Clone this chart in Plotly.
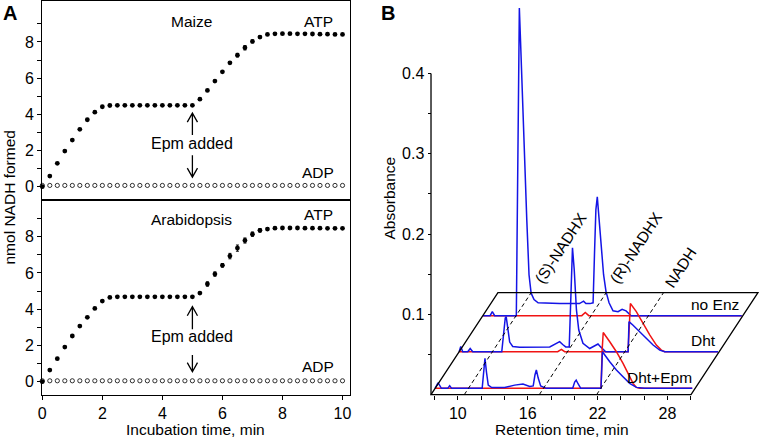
import plotly.graph_objects as go

# ---------------- Panel A data (nmol NADH formed vs incubation time) ----------------
time_min = [0, 0.25, 0.5, 0.75, 1, 1.25, 1.5, 1.75, 2, 2.25, 2.5, 2.75, 3, 3.25, 3.5, 3.75, 4, 4.25, 4.5, 4.75, 5,
            5.25, 5.5, 5.75, 6, 6.25, 6.5, 6.75, 7, 7.25, 7.5, 7.75, 8, 8.25, 8.5, 8.75, 9, 9.25, 9.5, 9.75, 10]
maize_atp = [0, 0.59, 1.29, 1.97, 2.58, 3.17, 3.70, 4.12, 4.42, 4.49,
             4.50, 4.50, 4.50, 4.50, 4.50, 4.50, 4.50, 4.50, 4.50, 4.50, 4.50,
             4.84, 5.32, 5.84, 6.35, 6.85, 7.27, 7.68, 8.03, 8.27, 8.42, 8.45,
             8.46, 8.46, 8.45, 8.45, 8.44, 8.43, 8.43, 8.42, 8.42]
maize_atp_err = [0] * 25 + [0.05, 0.1, 0.12, 0.08, 0.05] + [0] * 11
maize_adp = [0.07] * 41
arab_atp = [0, 0.64, 1.27, 1.91, 2.52, 3.07, 3.55, 4.04, 4.45, 4.65,
            4.68, 4.68, 4.68, 4.68, 4.68, 4.68, 4.68, 4.68, 4.68, 4.68, 4.68,
            4.89, 5.39, 5.94, 6.42, 6.93, 7.37, 7.79, 8.14, 8.35, 8.42, 8.47,
            8.48, 8.48, 8.48, 8.47, 8.47, 8.47, 8.46, 8.46, 8.46]
arab_atp_err = [0] * 22 + [0.12, 0.12, 0.1, 0.15, 0.17, 0.14, 0.12, 0.1, 0.08] + [0] * 10
arab_adp = [0.05] * 41
epm_time = 5.0

# ---------------- Panel B data (chromatograms; rt in min, absorbance above each row's baseline) ----------------
rows = ["no Enz", "Dht", "Dht+Epm"]
row_depth = [0.0983, 0.0534, 0.0078]   # absorbance offset of each row baseline

noenz_blue_rt = [7.73, 8.33, 8.52, 8.72, 10.58, 10.69, 10.79, 10.84, 10.94, 11.16, 11.48, 11.67, 11.85, 12.10, 12.45,
                 14.3, 16.0, 16.35, 16.55, 16.9, 17.17, 17.30, 17.41, 17.53, 17.68, 17.85, 18.07, 18.28, 18.54, 18.88,
                 19.31, 19.66, 20.00, 20.43, 26.0, 29.93]
noenz_blue_abs = [0, 0, 0.005, 0, 0, 0.206, 0.356, 0.383, 0.343, 0.244, 0.119, 0.051, 0.028, 0.020, 0.016,
                  0.015, 0.015, 0.018, 0.015, 0.015, 0.016, 0.082, 0.132, 0.148, 0.119, 0.082, 0.051, 0.030, 0.016, 0.006,
                  0.005, 0.008, 0.006, 0.0, 0.0, 0.0]
noenz_red_rt = [7.73, 16.2, 16.5, 16.8, 29.93]
noenz_red_abs = [0, 0, 0.004, 0, 0]

dht_blue_rt = [7.70, 7.84, 8.01, 8.44, 8.65, 8.87, 11.36, 11.53, 11.66, 11.74, 11.87, 12.04, 12.30, 12.90,
               15.48, 15.99, 16.33, 16.59, 16.85, 17.15, 17.28, 17.43, 17.58, 17.77, 17.97, 18.33,
               18.91, 19.34, 19.62, 19.85, 20.28, 22.21, 22.28, 22.63, 23.20, 23.78, 24.35, 24.92, 25.35, 29.92]
dht_blue_abs = [0, 0.0065, 0, 0, 0.004, 0, 0, 0.021, 0.042, 0.0438, 0.027, 0.012, 0.0065, 0.0055,
                0.006, 0.010, 0.0125, 0.009, 0.006, 0.006, 0.064, 0.1295, 0.102, 0.052, 0.027, 0.0105,
                0.004, 0.0077, 0.0096, 0.006, 0, 0, 0.0374, 0.033, 0.025, 0.0167, 0.0083, 0.002, 0, 0]
dht_red_rt = [7.70, 16.16, 16.48, 16.76, 22.20, 22.29, 22.40, 22.91, 23.48, 24.06, 24.63, 25.06, 25.35, 29.92]
dht_red_abs = [0, 0, 0.003, 0, 0, 0.039, 0.060, 0.050, 0.035, 0.021, 0.0083, 0.002, 0, 0]

epm_blue_rt = [7.70, 7.95, 8.24, 8.78, 8.95, 9.12, 11.74, 11.87, 11.98, 12.11, 12.26, 12.56,
               13.67, 14.53, 15.24, 15.82, 16.12, 16.27, 16.39, 16.55, 16.76, 17.25,
               19.51, 19.68, 19.81, 19.98, 20.20, 21.94, 22.06, 22.69, 23.26, 23.83, 24.40, 24.98, 25.69, 29.77]
epm_blue_abs = [0, 0.007, 0, 0, 0.0032, 0, 0, 0.0228, 0.0374, 0.020, 0.004, 0.001,
                0.001, 0.004, 0.0054, 0.0022, 0.003, 0.0166, 0.0228, 0.0128, 0.003, 0,
                0, 0.0078, 0.0103, 0.0054, 0, 0, 0.0456, 0.0331, 0.0228, 0.0144, 0.0062, 0.0012, 0, 0]
epm_red_rt = [7.70, 21.94, 22.04, 22.13, 22.69, 23.26, 23.83, 24.40, 24.69, 24.98, 25.26, 29.77]
epm_red_abs = [0, 0, 0.048, 0.0695, 0.058, 0.0456, 0.031, 0.0144, 0.0062, 0.0012, 0, 0]

compound_names = ["(S)-NADHX", "(R)-NADHX", "NADH"]
compound_rt = [10.56, 17.0, 21.92]

x_tick_vals_B = [8, 10, 12, 14, 16, 18, 20, 22, 24, 26, 28, 30]
x_tick_labels_B = ["", "10", "", "", "16", "", "", "22", "", "", "28", ""]
y_tick_vals_B = [0.05, 0.1, 0.15, 0.2, 0.25, 0.3, 0.35, 0.4]
y_tick_labels_B = ["", "0.1", "", "0.2", "", "0.3", "", "0.4"]

# ---------------- layout geometry (pixels) ----------------
W, H = 760, 445
def PX(p): return p / W
def PY(p): return 1 - p / H

FONT = "Liberation Sans, Arial, sans-serif"
BLUE = "#1414e6"
RED = "#f01414"

A_LEFT, A_RIGHT, A_TOP, A_MID, A_BOT = 42.3, 350, 1, 200, 395
# panel B mapping
B_X0PX, B_PXPERMIN = 341.3, 11.65        # px of rt=0, px per min
B_Y0PX, B_PXPERABS = 394.6, 803.0       # px of absorbance 0, px per absorbance unit
B_RT_START, B_RT_END = 7.7, 30.02
B_TOP_ABS = 0.1271
SHEAR = 45.2                             # rt shift per absorbance unit of depth

def rt_at(px): return (px - B_X0PX) / B_PXPERMIN
def ab_at(py): return (B_Y0PX - py) / B_PXPERABS

fig = go.Figure()

# Panel A traces
def add_A(yvals, err, adp, xa, ya):
    fig.add_trace(go.Scatter(x=time_min, y=adp, mode="markers", xaxis=xa, yaxis=ya, cliponaxis=False,
                             marker=dict(symbol="circle-open", size=4.2, color="black", line=dict(width=0.8, color="black")),
                             showlegend=False))
    fig.add_trace(go.Scatter(x=time_min, y=yvals, mode="markers", xaxis=xa, yaxis=ya, cliponaxis=False,
                             marker=dict(symbol="circle", size=4.8, color="black"),
                             error_y=dict(type="data", array=err, visible=True, color="black", thickness=1, width=1.5),
                             showlegend=False))

add_A(maize_atp, maize_atp_err, maize_adp, "x", "y")
add_A(arab_atp, arab_atp_err, arab_adp, "x2", "y2")

# Panel B traces
series = [
    (noenz_red_rt, noenz_red_abs, RED, 0), (noenz_blue_rt, noenz_blue_abs, BLUE, 0),
    (dht_red_rt, dht_red_abs, RED, 1), (dht_blue_rt, dht_blue_abs, BLUE, 1),
    (epm_red_rt, epm_red_abs, RED, 2), (epm_blue_rt, epm_blue_abs, BLUE, 2),
]
for rts, abss, col, r in series:
    d = row_depth[r]
    fig.add_trace(go.Scatter(x=[v + d * SHEAR for v in rts], y=[a + d for a in abss], mode="lines",
                             xaxis="x3", yaxis="y3", line=dict(color=col, width=1.5), showlegend=False))

axis_common = dict(showgrid=False, zeroline=False, linecolor="black", tickcolor="black", automargin=False,
                   tickfont=dict(family=FONT, size=16, color="black"))

fig.update_layout(
    width=W, height=H, margin=dict(l=0, r=0, t=0, b=0, autoexpand=False),
    paper_bgcolor="white", plot_bgcolor="white",
    font=dict(family=FONT, size=15.5, color="black"),
    xaxis=dict(domain=[PX(A_LEFT), PX(A_RIGHT)], range=[0, 10.25], anchor="y", showticklabels=False, ticks="",
               showline=True, mirror=True, linewidth=1.3, **axis_common),
    yaxis=dict(domain=[PY(A_MID), PY(A_TOP)], range=[-0.735, 10.265], anchor="x",
               tickvals=list(range(10)), ticktext=["0", "", "2", "", "4", "", "6", "", "8", ""],
               ticks="outside", ticklen=4, tickwidth=1.2, showline=True, mirror=True, linewidth=1.3, **axis_common),
    xaxis2=dict(domain=[PX(A_LEFT), PX(A_RIGHT)], range=[0, 10.25], anchor="y2",
                tickvals=[0, 2, 4, 6, 8, 10], ticks="outside", ticklen=4, tickwidth=1.2,
                showline=True, mirror=True, linewidth=1.3, **axis_common),
    yaxis2=dict(domain=[PY(A_BOT), PY(A_MID)], range=[-0.734, 10.025], anchor="x2",
                tickvals=list(range(10)), ticktext=["0", "", "2", "", "4", "", "6", "", "8", ""],
                ticks="outside", ticklen=4, tickwidth=1.2, showline=True, mirror=True, linewidth=1.3, **axis_common),
    xaxis3=dict(domain=[PX(420), 1.0], range=[rt_at(420), rt_at(760)], anchor="free", position=PY(B_Y0PX),
                tickvals=x_tick_vals_B, ticktext=x_tick_labels_B, ticks="outside", ticklen=4, tickwidth=1.2,
                showline=False, **axis_common),
    yaxis3=dict(domain=[PY(405), 1.0], range=[ab_at(405), ab_at(0)], anchor="free", position=PX(431),
                tickvals=y_tick_vals_B, ticktext=y_tick_labels_B, ticks="outside", ticklen=3.5, tickwidth=1.2,
                showline=False, **axis_common),
)

shapes = []
# Panel B y axis line and parallelogram floor
shapes.append(dict(type="line", xref="x3", yref="y3", x0=B_RT_START, x1=B_RT_START, y0=0, y1=0.4,
                   line=dict(color="black", width=1.3)))
dx_top = B_TOP_ABS * SHEAR
shapes.append(dict(type="path", xref="x3", yref="y3",
                   path=f"M {B_RT_START},0 L {B_RT_END},0 L {B_RT_END + dx_top},{B_TOP_ABS} "
                        f"L {B_RT_START + dx_top},{B_TOP_ABS} Z",
                   line=dict(color="black", width=1.3)))
for rt in compound_rt:
    shapes.append(dict(type="line", xref="x3", yref="y3", x0=rt, y0=0, x1=rt + dx_top, y1=B_TOP_ABS,
                       line=dict(color="black", width=1, dash="4px,3px")))

# Panel A arrows (open V heads)
def arrow(xr, yr, x, y_from, y_to, hw, hh):
    s = 1 if y_to > y_from else -1
    p = (f"M {x},{y_from} L {x},{y_to} M {x - hw},{y_to - s * hh} L {x},{y_to} L {x + hw},{y_to - s * hh}")
    shapes.append(dict(type="path", xref=xr, yref=yr, path=p, line=dict(color="black", width=1.3)))

arrow("x", "y", epm_time, 2.86, 4.07, 0.17, 0.5)
arrow("x", "y", epm_time, 1.74, 0.53, 0.17, 0.5)
arrow("x2", "y2", epm_time, 2.89, 4.14, 0.17, 0.5)
arrow("x2", "y2", epm_time, 1.47, 0.55, 0.17, 0.5)
fig.update_layout(shapes=shapes)

ann = []
def T(text, x, y, xref="paper", yref="paper", size=15.5, **kw):
    kw.setdefault("xanchor", "center")
    kw.setdefault("yanchor", "middle")
    ann.append(dict(text=text, x=x, y=y, xref=xref, yref=yref, showarrow=False,
                    font=dict(family=FONT, size=size, color="black"), **kw))

T("<b>A</b>", PX(10), PY(13), size=20)
T("<b>B</b>", PX(388), PY(13), size=20)
T("Maize", 4.98, 9.12, "x", "y")
T("ATP", 9.19, 9.12, "x", "y")
T("ADP", 9.19, 0.77, "x", "y")
T("Epm added", epm_time, 2.41, "x", "y", size=16)
T("Arabidopsis", 4.98, 8.96, "x2", "y2")
T("ATP", 9.19, 9.2, "x2", "y2")
T("ADP", 9.19, 0.83, "x2", "y2")
T("Epm added", epm_time, 2.48, "x2", "y2", size=16)
T("nmol NADH formed", PX(9), PY(197.5), textangle=-90)
T("Incubation time, min", PX(195), PY(429))
T("Absorbance", PX(389), PY(198.5), textangle=-90)
T("Retention time, min", PX(561.7), PY(429))

# compound labels along the dashed guides
for name, rt in zip(compound_names, compound_rt):
    half = 4.7 * len(name) + 5          # half text length in px
    start_abs = B_TOP_ABS + 0.007
    c_abs = start_abs + half * 0.837 / B_PXPERABS
    T(name, rt + c_abs * SHEAR, c_abs, "x3", "y3", textangle=-56.8)

# row labels
for name, d in zip(rows, row_depth):
    T(name, 29.9 + d * SHEAR, d + 0.0135, "x3", "y3", xanchor="right")

fig.update_layout(annotations=ann)
fig.write_html("out.html", config={"displayModeBar": False},
               post_script="document.body.style.margin='0';document.body.style.overflow='hidden';")
